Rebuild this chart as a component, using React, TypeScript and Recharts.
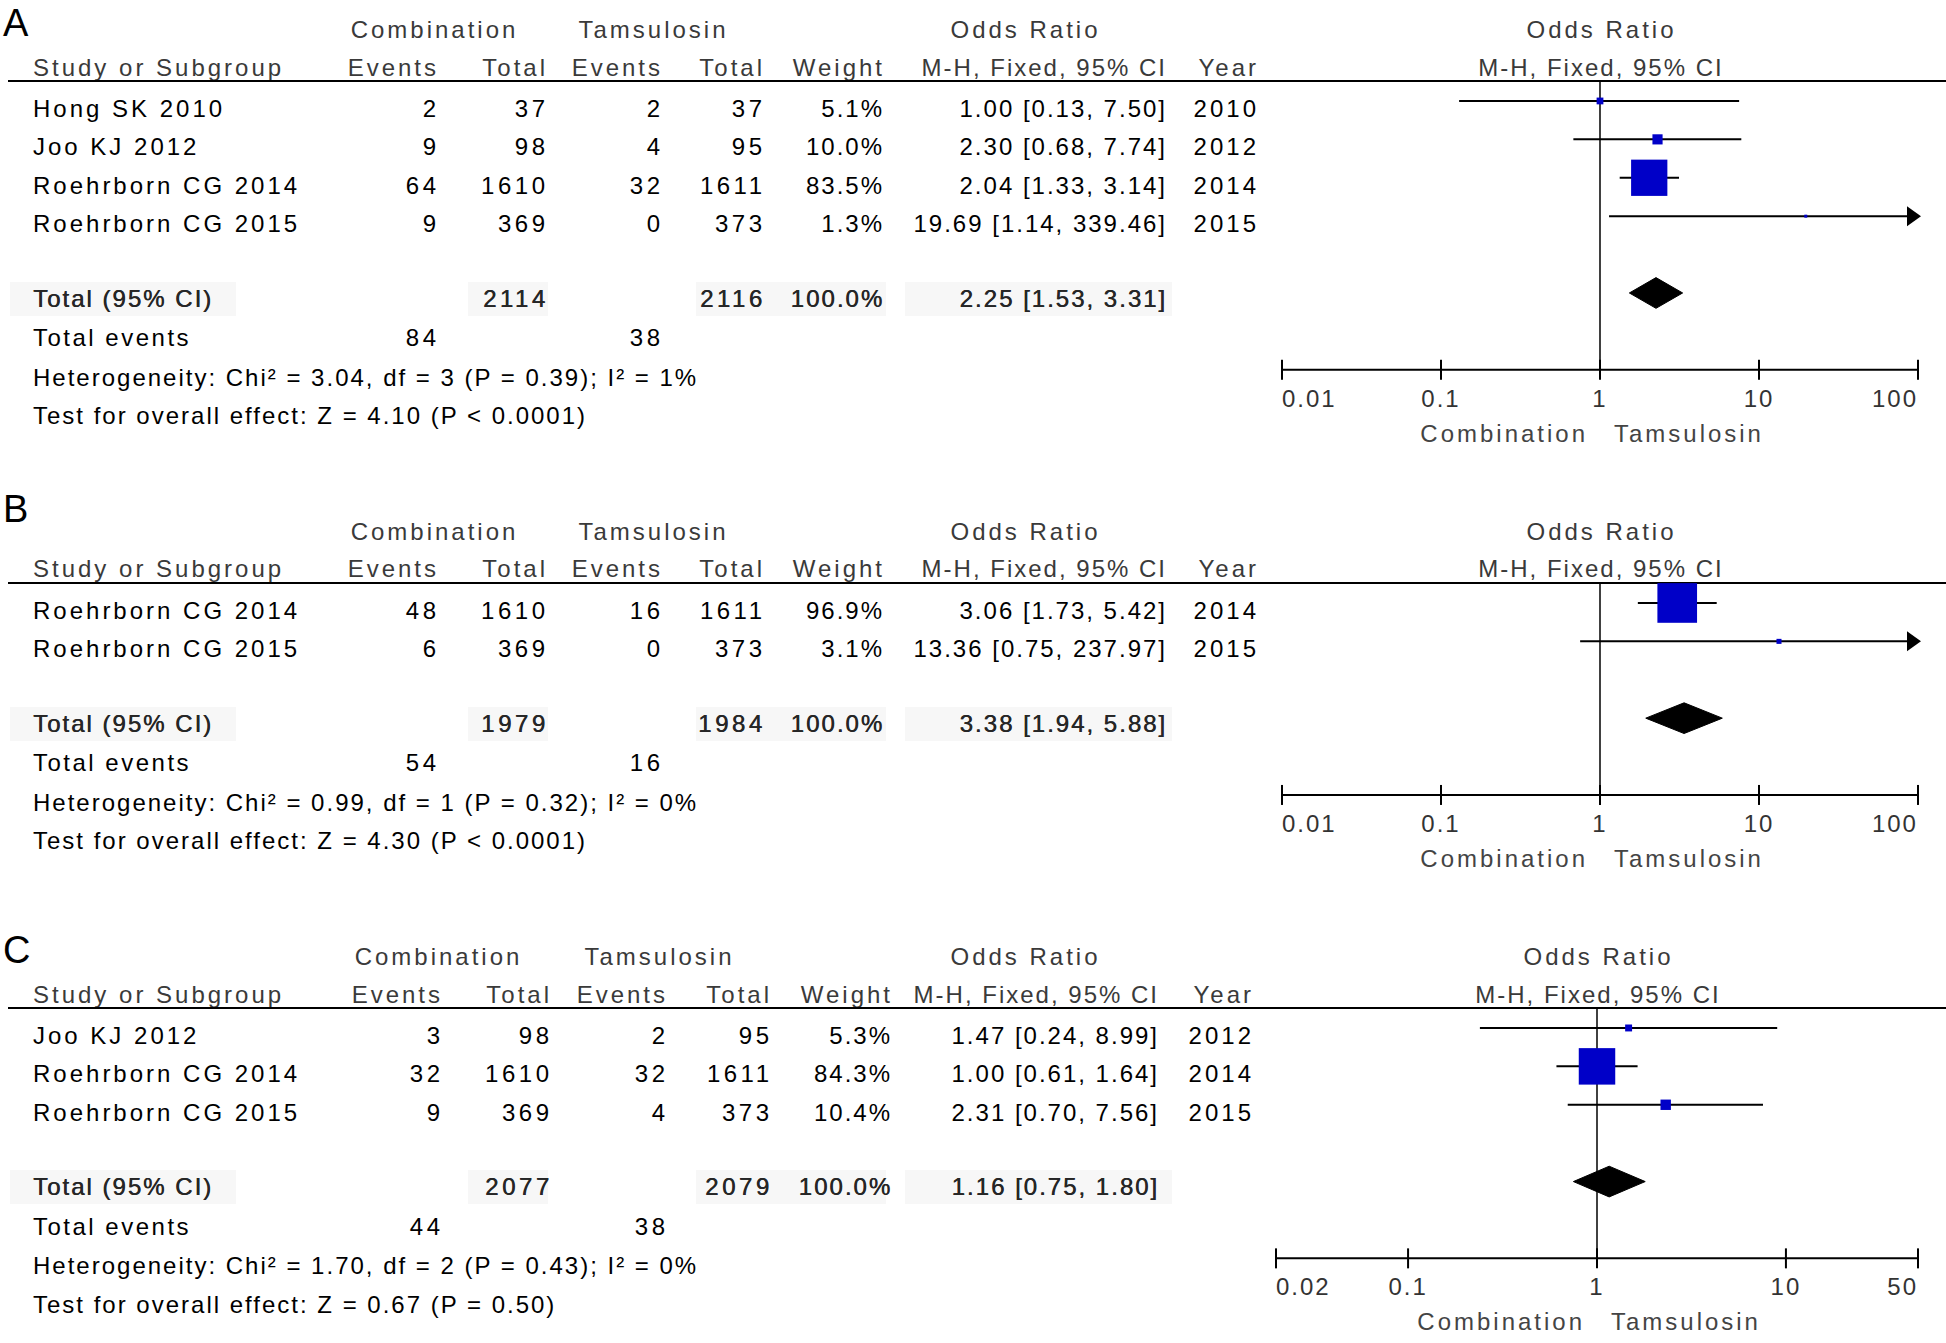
import React from 'react'
import { ComposedChart, XAxis, YAxis, Scatter, ReferenceLine } from 'recharts'

// ---- Panel A: adverse events, all studies ----
const A_STUDIES = ['Hong SK 2010', 'Joo KJ 2012', 'Roehrborn CG 2014', 'Roehrborn CG 2015']
const A_COMB_EVENTS = [2, 9, 64, 9]
const A_COMB_TOTAL = [37, 98, 1610, 369]
const A_TAMS_EVENTS = [2, 4, 32, 0]
const A_TAMS_TOTAL = [37, 95, 1611, 373]
const A_WEIGHT = [5.1, 10.0, 83.5, 1.3]
const A_OR = [1.0, 2.3, 2.04, 19.69]
const A_LO = [0.13, 0.68, 1.33, 1.14]
const A_HI = [7.5, 7.74, 3.14, 339.46]
const A_YEAR = [2010, 2012, 2014, 2015]
const A_TOTALS = [2114, 2116]
const A_TOTAL_EVENTS = [84, 38]
const A_POOLED = [2.25, 1.53, 3.31]
const A_HET = 'Heterogeneity: Chi² = 3.04, df = 3 (P = 0.39); I² = 1%'
const A_TEST = 'Test for overall effect: Z = 4.10 (P < 0.0001)'
const A_TICKS = [0.01, 0.1, 1, 10, 100]

// ---- Panel B ----
const B_STUDIES = ['Roehrborn CG 2014', 'Roehrborn CG 2015']
const B_COMB_EVENTS = [48, 6]
const B_COMB_TOTAL = [1610, 369]
const B_TAMS_EVENTS = [16, 0]
const B_TAMS_TOTAL = [1611, 373]
const B_WEIGHT = [96.9, 3.1]
const B_OR = [3.06, 13.36]
const B_LO = [1.73, 0.75]
const B_HI = [5.42, 237.97]
const B_YEAR = [2014, 2015]
const B_TOTALS = [1979, 1984]
const B_TOTAL_EVENTS = [54, 16]
const B_POOLED = [3.38, 1.94, 5.88]
const B_HET = 'Heterogeneity: Chi² = 0.99, df = 1 (P = 0.32); I² = 0%'
const B_TEST = 'Test for overall effect: Z = 4.30 (P < 0.0001)'
const B_TICKS = [0.01, 0.1, 1, 10, 100]

// ---- Panel C ----
const C_STUDIES = ['Joo KJ 2012', 'Roehrborn CG 2014', 'Roehrborn CG 2015']
const C_COMB_EVENTS = [3, 32, 9]
const C_COMB_TOTAL = [98, 1610, 369]
const C_TAMS_EVENTS = [2, 32, 4]
const C_TAMS_TOTAL = [95, 1611, 373]
const C_WEIGHT = [5.3, 84.3, 10.4]
const C_OR = [1.47, 1.0, 2.31]
const C_LO = [0.24, 0.61, 0.7]
const C_HI = [8.99, 1.64, 7.56]
const C_YEAR = [2012, 2014, 2015]
const C_TOTALS = [2077, 2079]
const C_TOTAL_EVENTS = [44, 38]
const C_POOLED = [1.16, 0.75, 1.8]
const C_HET = 'Heterogeneity: Chi² = 1.70, df = 2 (P = 0.43); I² = 0%'
const C_TEST = 'Test for overall effect: Z = 0.67 (P = 0.50)'
const C_TICKS = [0.02, 0.1, 1, 10, 50]

const FONT = '"Liberation Sans", Arial, sans-serif'
const ROW = 38.4
const FS = 24
const LS = 2
const HEAD = '#3a3a3a'
const TOT = '#262626'

const COLS_AB = { name: 33, cEv: 436, cTot: 545, tEv: 660, tTot: 762, wt: 882, or: 1165, year: 1256, hComb: 433, hTams: 652, hOr: 1024 }
const COLS_C = { name: 33, cEv: 440, cTot: 549, tEv: 665, tTot: 769, wt: 890, or: 1157, year: 1251, hComb: 437, hTams: 658, hOr: 1024 }

const panels = [
  {
    letter: 'A', letterY: 23, h1: 30, h2: 68, rule: 81, plotLeft: 1282, plotRight: 1918, cols: COLS_AB,
    studies: A_STUDIES, cEv: A_COMB_EVENTS, cTot: A_COMB_TOTAL, tEv: A_TAMS_EVENTS, tTot: A_TAMS_TOTAL,
    weight: A_WEIGHT, or: A_OR, lo: A_LO, hi: A_HI, year: A_YEAR, totals: A_TOTALS,
    totalEvents: A_TOTAL_EVENTS, pooled: A_POOLED, het: A_HET, test: A_TEST, ticks: A_TICKS,
  },
  {
    letter: 'B', letterY: 509, h1: 532, h2: 569, rule: 583, plotLeft: 1282, plotRight: 1918, cols: COLS_AB,
    studies: B_STUDIES, cEv: B_COMB_EVENTS, cTot: B_COMB_TOTAL, tEv: B_TAMS_EVENTS, tTot: B_TAMS_TOTAL,
    weight: B_WEIGHT, or: B_OR, lo: B_LO, hi: B_HI, year: B_YEAR, totals: B_TOTALS,
    totalEvents: B_TOTAL_EVENTS, pooled: B_POOLED, het: B_HET, test: B_TEST, ticks: B_TICKS,
  },
  {
    letter: 'C', letterY: 950, h1: 957, h2: 995, rule: 1008, plotLeft: 1276, plotRight: 1918, cols: COLS_C,
    studies: C_STUDIES, cEv: C_COMB_EVENTS, cTot: C_COMB_TOTAL, tEv: C_TAMS_EVENTS, tTot: C_TAMS_TOTAL,
    weight: C_WEIGHT, or: C_OR, lo: C_LO, hi: C_HI, year: C_YEAR, totals: C_TOTALS,
    totalEvents: C_TOTAL_EVENTS, pooled: C_POOLED, het: C_HET, test: C_TEST, ticks: C_TICKS,
  },
]

const ci = (v: number, l: number, h: number) => `${v.toFixed(2)} [${l.toFixed(2)}, ${h.toFixed(2)}]`

function T({ x, y, children, align = 'left', color = '#000', size = FS, ls = LS, lh = 30, shadow = false }: any) {
  const shift = align === 'right' ? 'translateX(-100%)' : align === 'center' ? 'translateX(-50%)' : 'none'
  const dx = align === 'right' ? ls : align === 'center' ? ls / 2 : 0
  return (
    <div
      style={{
        position: 'absolute', left: x + dx, top: y - lh / 2, height: lh, lineHeight: lh + 'px',
        fontSize: size, letterSpacing: ls, color, whiteSpace: 'nowrap', transform: shift,
        fontFamily: FONT, textShadow: shadow ? `0.5px 0 0 ${color}` : undefined,
      }}
    >
      {children}
    </div>
  )
}

function AxisTick(props: any) {
  const { x, y, payload, index, tickValues } = props
  const last = tickValues.length - 1
  const anchor = index === 0 ? 'start' : index === last ? 'end' : 'middle'
  const txt = { fontFamily: FONT, fontSize: FS, letterSpacing: LS }
  const lab = { fontFamily: FONT, fontSize: FS, letterSpacing: 3 }
  return (
    <g>
      <line x1={x} x2={x} y1={y - 10} y2={y + 10} stroke="#000" strokeWidth={2} />
      <text x={x} y={y + 37} textAnchor={anchor} fill="#333" style={txt}>{payload.value}</text>
      {payload.value === 1 && (
        <>
          <text x={x - 12} y={y + 72} textAnchor="end" fill="#444" style={lab}>Combination</text>
          <text x={x + 14} y={y + 72} textAnchor="start" fill="#444" style={lab}>Tamsulosin</text>
        </>
      )}
    </g>
  )
}

const Square = (props: any) => {
  const s = 2.55 * Math.pow(props.payload.w, 0.6)
  return <rect x={props.cx - s / 2} y={props.cy - s / 2} width={s} height={s} fill="#0000c8" />
}

const Arrow = (props: any) => {
  const { cx, cy } = props
  return <polygon points={`${cx + 3},${cy} ${cx - 11},${cy - 10} ${cx - 11},${cy + 10}`} fill="#000" />
}

const NoDot = () => <g />

const DiamondPath = (props: any) => {
  const pts = props.points || []
  if (!pts.length) return <g />
  const d = pts.map((p: any, i: number) => `${i ? 'L' : 'M'}${p.x},${p.y}`).join(' ') + ' Z'
  return <path d={d} fill="#000" stroke="#000" strokeWidth={1} />
}

function Forest({ p }: any) {
  const n = p.studies.length
  const pad = 12
  const plotH = (n + 3 + 0.52) * ROW
  const w = p.plotRight - p.plotLeft + pad * 2
  const h = pad + plotH + 80
  const maxT = p.ticks[p.ticks.length - 1]
  const squares = p.or.map((v: number, i: number) => ({ x: v, y: i, w: p.weight[i] }))
  const arrows = p.hi
    .map((v: number, i: number) => (v > maxT ? { x: maxT, y: i } : null))
    .filter(Boolean)
  const [pv, pl, ph] = p.pooled
  const diamond = [
    { x: pl, y: n + 1 },
    { x: pv, y: n + 1 - 0.4 },
    { x: ph, y: n + 1 },
    { x: pv, y: n + 1 + 0.4 },
  ]
  return (
    <div style={{ position: 'absolute', left: p.plotLeft - pad, top: p.rule - pad }}>
      <ComposedChart width={w} height={h} margin={{ top: pad, right: pad, left: pad, bottom: 0 }}>
        <XAxis
          type="number"
          dataKey="x"
          scale="log"
          domain={[p.ticks[0], maxT]}
          ticks={p.ticks}
          interval={0}
          tickSize={0}
          tickMargin={0}
          tickLine={false}
          axisLine={{ stroke: '#000', strokeWidth: 2 }}
          height={80}
          tick={<AxisTick tickValues={p.ticks} />}
        />
        <YAxis type="number" dataKey="y" domain={[-0.52, n + 3]} reversed hide />
        <ReferenceLine x={1} stroke="#000" strokeWidth={1.5} />
        {p.lo.map((l: number, i: number) => (
          <ReferenceLine
            key={i}
            segment={[{ x: l, y: i }, { x: p.hi[i], y: i }]}
            stroke="#000"
            strokeWidth={2}
            ifOverflow="hidden"
          />
        ))}
        <Scatter data={squares} shape={Square} isAnimationActive={false} />
        <Scatter data={arrows} shape={Arrow} isAnimationActive={false} />
        <Scatter data={diamond} shape={NoDot} line={DiamondPath} lineType="joint" isAnimationActive={false} />
      </ComposedChart>
    </div>
  )
}

function Panel({ p }: any) {
  const c = p.cols
  const n = p.studies.length
  const ty = (k: number) => p.rule + 28 + k * ROW
  const totY = ty(n + 0.94)
  const plotMid = p.plotLeft + (p.plotRight - p.plotLeft) * (Math.log10(1 / p.ticks[0]) / Math.log10(p.ticks[p.ticks.length - 1] / p.ticks[0]))
  return (
    <>
      {/* faint shading behind the pooled row */}
      {[[10, 236], [468, 548], [696, 886], [905, 1172]].map(([a, b], i) => (
        <div key={i} style={{ position: 'absolute', left: a, top: totY - 17, width: b - a, height: 34, background: '#f7f7f7' }} />
      ))}
      <T x={3} y={p.letterY} size={38} ls={0} lh={40}>{p.letter}</T>
      <T x={c.hComb} y={p.h1} align="center" color={HEAD} ls={3}>Combination</T>
      <T x={c.hTams} y={p.h1} align="center" color={HEAD} ls={3}>Tamsulosin</T>
      <T x={c.hOr} y={p.h1} align="center" color={HEAD} ls={3}>Odds Ratio</T>
      <T x={plotMid} y={p.h1} align="center" color={HEAD} ls={3}>Odds Ratio</T>
      <T x={c.name} y={p.h2} color={HEAD} ls={3}>Study or Subgroup</T>
      <T x={c.cEv} y={p.h2} align="right" color={HEAD} ls={3}>Events</T>
      <T x={c.cTot} y={p.h2} align="right" color={HEAD} ls={3}>Total</T>
      <T x={c.tEv} y={p.h2} align="right" color={HEAD} ls={3}>Events</T>
      <T x={c.tTot} y={p.h2} align="right" color={HEAD} ls={3}>Total</T>
      <T x={c.wt} y={p.h2} align="right" color={HEAD} ls={3}>Weight</T>
      <T x={c.or} y={p.h2} align="right" color={HEAD}>M-H, Fixed, 95% CI</T>
      <T x={c.year} y={p.h2} align="right" color={HEAD} ls={3}>Year</T>
      <T x={plotMid} y={p.h2} align="center" color={HEAD}>M-H, Fixed, 95% CI</T>
      <div style={{ position: 'absolute', left: 8, top: p.rule - 1, width: 1938, height: 2, background: '#000' }} />
      {p.studies.map((s: string, i: number) => (
        <React.Fragment key={s}>
          <T x={c.name} y={ty(i)} ls={3}>{s}</T>
          <T x={c.cEv} y={ty(i)} align="right" ls={3.5}>{p.cEv[i]}</T>
          <T x={c.cTot} y={ty(i)} align="right" ls={3.5}>{p.cTot[i]}</T>
          <T x={c.tEv} y={ty(i)} align="right" ls={3.5}>{p.tEv[i]}</T>
          <T x={c.tTot} y={ty(i)} align="right" ls={3.5}>{p.tTot[i]}</T>
          <T x={c.wt} y={ty(i)} align="right">{p.weight[i].toFixed(1)}%</T>
          <T x={c.or} y={ty(i)} align="right">{ci(p.or[i], p.lo[i], p.hi[i])}</T>
          <T x={c.year} y={ty(i)} align="right" ls={3}>{p.year[i]}</T>
        </React.Fragment>
      ))}
      <T x={c.name} y={totY} color={TOT} shadow>Total (95% CI)</T>
      <T x={c.cTot} y={totY} align="right" color={TOT} ls={3.5} shadow>{p.totals[0]}</T>
      <T x={c.tTot} y={totY} align="right" color={TOT} ls={3.5} shadow>{p.totals[1]}</T>
      <T x={c.wt} y={totY} align="right" color={TOT} shadow>100.0%</T>
      <T x={c.or} y={totY} align="right" color={TOT} shadow>{ci(p.pooled[0], p.pooled[1], p.pooled[2])}</T>
      <T x={c.name} y={ty(n + 1.97)} ls={2.5}>Total events</T>
      <T x={c.cEv} y={ty(n + 1.97)} align="right" ls={3.5}>{p.totalEvents[0]}</T>
      <T x={c.tEv} y={ty(n + 1.97)} align="right" ls={3.5}>{p.totalEvents[1]}</T>
      <T x={c.name} y={ty(n + 3)}>{p.het}</T>
      <T x={c.name} y={ty(n + 4)}>{p.test}</T>
      <Forest p={p} />
    </>
  )
}

export default function App() {
  return (
    <div
      style={{
        position: 'absolute', left: 0, top: 0, width: 1946, height: 1343,
        background: '#fff', overflow: 'hidden', fontFamily: FONT,
      }}
    >
      {panels.map((p) => (
        <Panel key={p.letter} p={p} />
      ))}
    </div>
  )
}
